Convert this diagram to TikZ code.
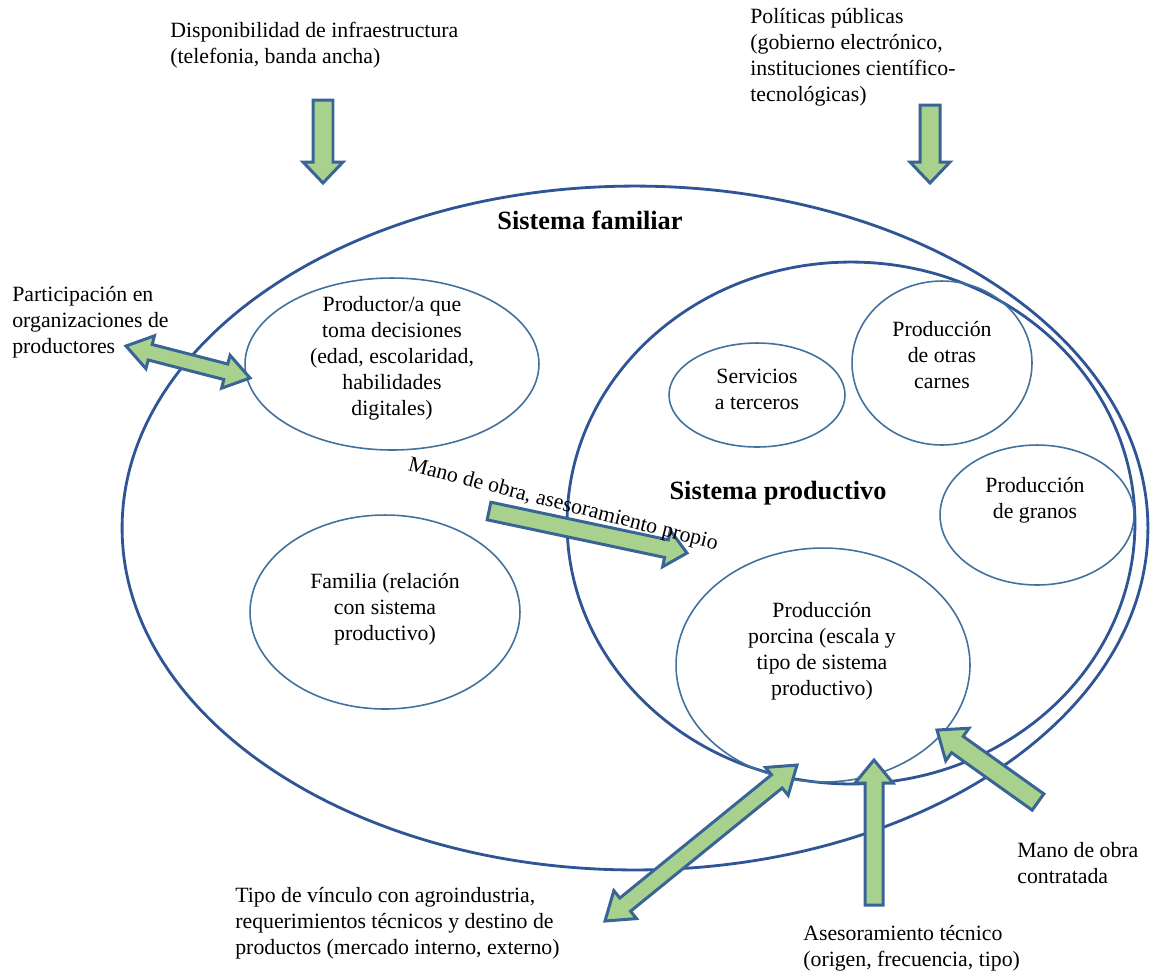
\documentclass[tikz,border=0pt]{standalone}
\usepackage{fontspec}
\setmainfont{Liberation Serif}
\usetikzlibrary{shapes.geometric,calc}
\definecolor{ringblue}{HTML}{2F5597}
\definecolor{thinblue}{HTML}{41719C}
\definecolor{arrowgreen}{HTML}{A9D18E}
\definecolor{arrowedge}{HTML}{3A6496}
\tikzset{
 ring/.style={ellipse, draw=ringblue, line width=1.6pt, inner sep=0pt},
 bubble/.style={ellipse, draw=thinblue, line width=0.9pt, inner sep=0pt},
 txt/.style={align=center, inner sep=0pt, font=\fontsize{12.4}{14.8}\selectfont},
 txtl/.style={align=left, anchor=west, inner sep=0pt, font=\fontsize{12.4}{14.8}\selectfont},
 headtxt/.style={inner sep=0pt, font=\fontsize{15}{17}\selectfont\bfseries},
 barrowstyle/.style={fill=arrowgreen, draw=arrowedge, line width=1.7pt, line join=miter}
}
\newcommand\blockarrow[5]{%
 \coordinate (bac) at ($(#2)!#5!(#1)$);
 \draw[barrowstyle] ($(#1)!#3!90:(#2)$) -- ($(bac)!#3!-90:(#1)$) -- ($(bac)!#4!-90:(#1)$) -- (#2) -- ($(bac)!#4!90:(#1)$) -- ($(bac)!#3!90:(#1)$) -- ($(#1)!#3!-90:(#2)$) -- cycle;}
\newcommand\dblockarrow[5]{%
 \coordinate (bac) at ($(#2)!#5!(#1)$);
 \coordinate (bad) at ($(#1)!#5!(#2)$);
 \draw[barrowstyle] (#1) -- ($(bad)!#4!90:(#2)$) -- ($(bad)!#3!90:(#2)$) -- ($(bac)!#3!-90:(#1)$) -- ($(bac)!#4!-90:(#1)$) -- (#2) -- ($(bac)!#4!90:(#1)$) -- ($(bac)!#3!90:(#1)$) -- ($(bad)!#3!-90:(#2)$) -- ($(bad)!#4!-90:(#2)$) -- cycle;}
\begin{document}
\begin{tikzpicture}[x=0.02cm,y=-0.02cm]
\fill[white] (0,0) rectangle (1151,971);
\useasboundingbox (0,0) rectangle (1151,971);
% ellipses
\node[ring, minimum width=20.52cm, minimum height=13.68cm] (fam) at (635,528) {};
\node[ring, minimum width=11.36cm, minimum height=10.44cm] (prod) at (851,523) {};
\node[bubble, minimum width=5.88cm, minimum height=3.44cm] (productor) at (392,364) {};
\node[bubble, minimum width=5.4cm, minimum height=3.88cm] (familia) at (385,612) {};
\node[bubble, minimum width=3.52cm, minimum height=2.08cm] (servicios) at (757,395) {};
\node[bubble, minimum width=3.6cm, minimum height=3.28cm] (carnes) at (942,363) {};
\node[bubble, minimum width=3.88cm, minimum height=2.8cm] (granos) at (1037,515) {};
\node[bubble, minimum width=5.88cm, minimum height=4.68cm] (porcina) at (823,665) {};
% arrow end points
\coordinate (a1s) at (323,100); \coordinate (a1e) at (323,183);
\coordinate (a2s) at (930,105); \coordinate (a2e) at (930,183);
\coordinate (a3s) at (126,346); \coordinate (a3e) at (250,378);
\coordinate (a4s) at (489,511); \coordinate (a4e) at (687,553);
\coordinate (a5s) at (605,921); \coordinate (a5e) at (797,765);
\coordinate (a6s) at (874,905); \coordinate (a6e) at (874,760);
\coordinate (a7s) at (1038,802); \coordinate (a7e) at (937,730);
\blockarrow{a1s}{a1e}{0.2cm}{0.4cm}{0.42cm}
\blockarrow{a2s}{a2e}{0.2cm}{0.4cm}{0.42cm}
\dblockarrow{a3s}{a3e}{0.16cm}{0.34cm}{0.5cm}
\blockarrow{a4s}{a4e}{0.18cm}{0.37cm}{0.42cm}
\dblockarrow{a5s}{a5e}{0.17cm}{0.36cm}{0.52cm}
\blockarrow{a6s}{a6e}{0.18cm}{0.38cm}{0.46cm}
\blockarrow{a7s}{a7e}{0.2cm}{0.4cm}{0.5cm}
% texts
\node[headtxt] (tfam) at (590,220) {Sistema familiar};
\node[headtxt] (tprod) at (778,493) {Sistema productivo};
\node[txt] (tproductor) at (392,358) {Productor/a que\\toma decisiones\\(edad, escolaridad,\\habilidades\\digitales)};
\node[txt] (tfamilia) at (385,609) {Familia (relación\\con sistema\\productivo)};
\node[txt] (tservicios) at (757,389) {Servicios\\a terceros};
\node[txt] (tcarnes) at (942,355) {Producción\\de otras\\carnes};
\node[txt] (tgranos) at (1035,500) {Producción\\de granos};
\node[txt] (tporcina) at (822,651) {Producción\\porcina (escala y\\tipo de sistema\\productivo)};
\node[txtl] (tinfra) at (170,45) {Disponibilidad de infraestructura\\(telefonia, banda ancha)};
\node[txtl] (tpol) at (750,57) {Políticas públicas\\(gobierno electrónico,\\instituciones científico-\\tecnológicas)};
\node[txtl] (tpart) at (12,322) {Participación en\\organizaciones de\\productores};
\node[txtl] (tvinc) at (235,923) {Tipo de vínculo con agroindustria,\\requerimientos técnicos y destino de\\productos (mercado interno, externo)};
\node[txtl] (tases) at (803,948) {Asesoramiento técnico\\(origen, frecuencia, tipo)};
\node[txtl] (tmano) at (1017,863) {Mano de obra\\contratada};
\node[txt, rotate=-14.4] (tpropio) at (563,505) {Mano de obra, asesoramiento propio};
\end{tikzpicture}
\end{document}
